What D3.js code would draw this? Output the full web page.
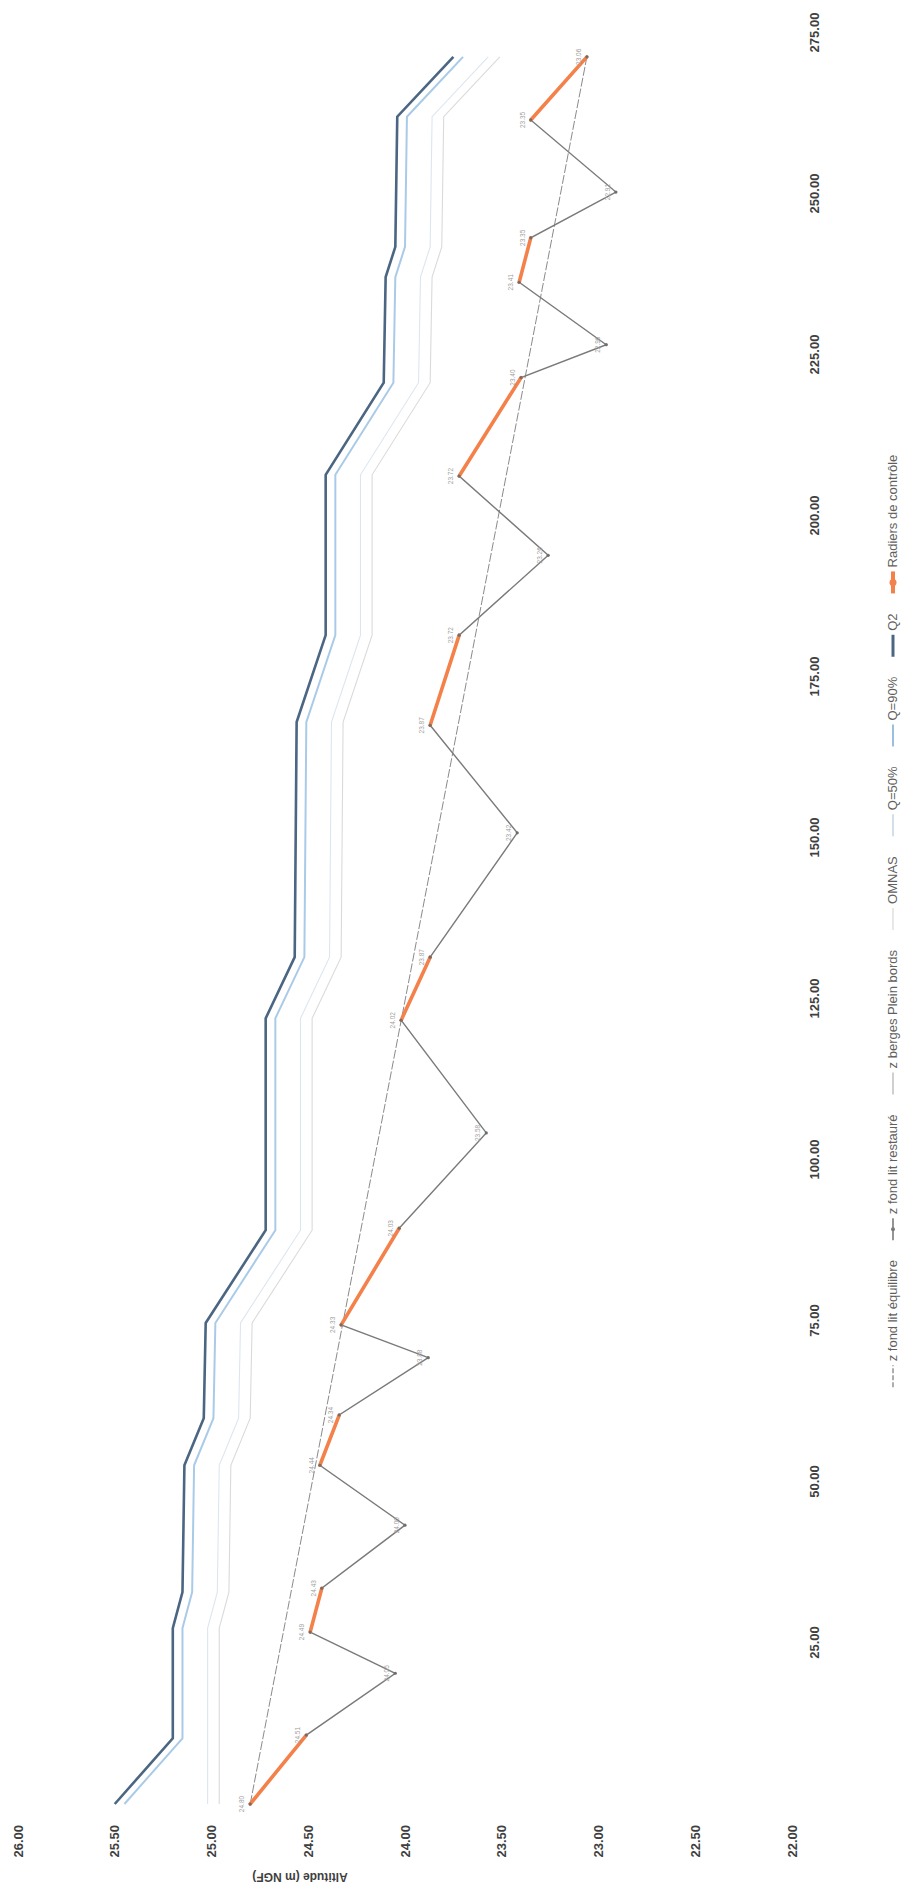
<!DOCTYPE html>
<html>
<head>
<meta charset="utf-8">
<script src="https://cdn.jsdelivr.net/npm/d3@7"></script>
<style>
  html, body { margin: 0; padding: 0; background: #ffffff; }
  svg { display: block; }
  text { font-family: "Liberation Sans", Arial, sans-serif; }
</style>
</head>
<body>
<div id="chart"></div>
<script>
// ---------------- DATA ----------------
const xTicks = [25, 50, 75, 100, 125, 150, 175, 200, 225, 250, 275];
const yTicks = [22.0, 22.5, 23.0, 23.5, 24.0, 24.5, 25.0, 25.5, 26.0];

// z fond lit restauré (profil en long, abscisse m / altitude m NGF)
const restX = [0, 10.7, 20.3, 26.7, 33.5, 43.3, 52.6, 60.4, 69.3, 74.4, 89.4, 104.2, 121.7, 131.5, 150.8, 167.5, 181.5, 193.9, 206.2, 221.5, 226.6, 236.3, 243.2, 250.3, 261.5, 271.3];
const restZ = [24.80, 24.51, 24.05, 24.49, 24.43, 24.00, 24.44, 24.34, 23.88, 24.33, 24.03, 23.58, 24.02, 23.87, 23.42, 23.87, 23.72, 23.26, 23.72, 23.40, 22.96, 23.41, 23.35, 22.91, 23.35, 23.06];

// Radiers de contrôle : segments [start, end] on the restored profile
const radierStartX = [0, 26.7, 52.6, 74.4, 121.7, 167.5, 206.2, 236.3, 261.5];
const radierStartZ = [24.80, 24.49, 24.44, 24.33, 24.02, 23.87, 23.72, 23.41, 23.35];
const radierEndX   = [10.7, 33.5, 60.4, 89.4, 131.5, 181.5, 221.5, 243.2, 271.3];
const radierEndZ   = [24.51, 24.43, 24.34, 24.03, 23.87, 23.72, 23.40, 23.35, 23.06];

// z fond lit équilibre
const equiX = [0, 271.3];
const equiZ = [24.80, 23.06];

// water lines
const qX   = [0, 10.2, 27.3, 32.9, 52.6, 59.9, 74.7, 89.1, 122.0, 131.5, 168.0, 181.5, 206.4, 220.7, 237.1, 241.8, 262.0, 271.3];
const q2Z  = [25.50, 25.20, 25.20, 25.15, 25.14, 25.04, 25.03, 24.72, 24.72, 24.57, 24.56, 24.41, 24.41, 24.11, 24.10, 24.05, 24.04, 23.75];
const q90Z = [25.45, 25.15, 25.15, 25.10, 25.09, 24.99, 24.98, 24.67, 24.67, 24.52, 24.51, 24.36, 24.36, 24.06, 24.05, 24.00, 23.99, 23.70];
const q50Z = [25.02, 25.02, 25.02, 24.97, 24.96, 24.86, 24.85, 24.54, 24.54, 24.39, 24.38, 24.23, 24.23, 23.93, 23.92, 23.87, 23.86, 23.57];
const bergesZ = [24.96, 24.96, 24.96, 24.91, 24.90, 24.80, 24.79, 24.48, 24.48, 24.33, 24.32, 24.17, 24.17, 23.87, 23.86, 23.81, 23.80, 23.51];

const legendLabels = ["z fond lit équilibre", "z fond lit restauré", "z berges Plein bords", "OMNAS", "Q=50%", "Q=90%", "Q2", "Radiers de contrôle"];
const legendColors = ["#8c8c8c", "#7a7a7a", "#c4c4c4", "#e2e2e2", "#c9d6e3", "#9dbfdf", "#4a6682", "#f4804a"];

// ---------------- LAYOUT ----------------
const PAGE_W = 908, PAGE_H = 1889;
// chart is drawn in landscape (PAGE_H wide, PAGE_W tall) then rotated -90deg
const svg = d3.select("#chart").append("svg")
  .attr("width", PAGE_W).attr("height", PAGE_H)
  .style("background", "#fff");

const g = svg.append("g").attr("transform", `translate(0,${PAGE_H}) rotate(-90)`);

const x = d3.scaleLinear().domain([0, 275]).range([85, 1856]);
const y = d3.scaleLinear().domain([22, 26]).range([792, 18]);

// ---------------- AXES ----------------
const yAxis = g.append("g").attr("transform", "translate(70,0)")
  .call(d3.axisLeft(y).tickValues(yTicks).tickFormat(d3.format(".2f")).tickSize(0).tickPadding(6));
const xAxis = g.append("g").attr("transform", "translate(0,810)")
  .call(d3.axisBottom(x).tickValues(xTicks).tickFormat(d3.format(".2f")).tickSize(0).tickPadding(0));
[yAxis, xAxis].forEach(a => {
  a.select(".domain").remove();
  a.selectAll("text")
    .attr("fill", "#3f3f3f")
    .style("font-size", "13px")
    .style("font-weight", "bold")
    .style("font-family", "'Liberation Sans', Arial, sans-serif");
});

g.append("text")
  .attr("transform", `translate(16,300) rotate(-90)`)
  .attr("text-anchor", "middle")
  .attr("fill", "#3f3f3f")
  .style("font-size", "12px")
  .style("font-weight", "bold")
  .text("Altitude (m NGF)");

// ---------------- LINES ----------------
const line = d3.line().x(d => x(d[0])).y(d => y(d[1]));
const zip = (xs, zs) => xs.map((v, i) => [v, zs[i]]);

g.append("path").datum(zip(qX, bergesZ)).attr("d", line)
  .attr("fill", "none").attr("stroke", "#dadada").attr("stroke-width", 1.1);
g.append("path").datum(zip(qX, q50Z)).attr("d", line)
  .attr("fill", "none").attr("stroke", "#dce6ef").attr("stroke-width", 1.1);
g.append("path").datum(zip(qX, q90Z)).attr("d", line)
  .attr("fill", "none").attr("stroke", "#a9cbe8").attr("stroke-width", 2);
g.append("path").datum(zip(qX, q2Z)).attr("d", line)
  .attr("fill", "none").attr("stroke", "#4a6682").attr("stroke-width", 2.6);

// equilibrium line
g.append("path").datum(zip(equiX, equiZ)).attr("d", line)
  .attr("fill", "none").attr("stroke", "#8a8a8a").attr("stroke-width", 1)
  .attr("stroke-dasharray", "9,2");

// restored bed
const rest = zip(restX, restZ);
g.append("path").datum(rest).attr("d", line)
  .attr("fill", "none").attr("stroke", "#7a7a7a").attr("stroke-width", 1.4);

// radiers
const radiers = radierStartX.map((v, i) => [[v, radierStartZ[i]], [radierEndX[i], radierEndZ[i]]]);
g.selectAll(".radier").data(radiers).join("path").attr("class", "radier")
  .attr("d", line).attr("fill", "none").attr("stroke", "#f4804a")
  .attr("stroke-width", 3.6).attr("stroke-linecap", "round");

// markers & value labels
g.selectAll(".pt").data(rest).join("circle").attr("class", "pt")
  .attr("cx", d => x(d[0])).attr("cy", d => y(d[1])).attr("r", 1.6)
  .attr("fill", "#6e6e6e");
g.selectAll(".lbl").data(rest).join("text").attr("class", "lbl")
  .attr("x", d => x(d[0])).attr("y", d => y(d[1]) - 6)
  .attr("text-anchor", "middle")
  .attr("fill", "#a0a0a0")
  .style("font-size", "6.5px")
  .text(d => d[1].toFixed(2));

// ---------------- LEGEND ----------------
const legendY = 897;
const fontSize = 13;
const sample = 22, gapTxt = 4, spacing = 20;
const measure = svg.append("text").style("font-size", fontSize + "px").attr("visibility", "hidden");
const widths = legendLabels.map(t => { measure.text(t); return measure.node().getComputedTextLength(); });
measure.remove();
const total = d3.sum(widths) + legendLabels.length * (sample + gapTxt) + (legendLabels.length - 1) * spacing;
let cx = 968 - total / 2;
const leg = g.append("g");
legendLabels.forEach((t, i) => {
  const it = leg.append("g").attr("transform", `translate(${cx},${legendY})`);
  const ln = it.append("line").attr("x1", 0).attr("x2", sample).attr("y1", -4).attr("y2", -4)
    .attr("stroke", legendColors[i]);
  if (i === 0) ln.attr("stroke-width", 1.4).attr("stroke-dasharray", "5,2");
  else if (i === 6) ln.attr("stroke-width", 3);
  else if (i === 7) ln.attr("stroke-width", 4);
  else if (i === 5) ln.attr("stroke-width", 2);
  else ln.attr("stroke-width", 1.6);
  if (i === 1 || i === 7) {
    it.append("circle").attr("cx", sample / 2).attr("cy", -4).attr("r", i === 7 ? 3.5 : 2)
      .attr("fill", legendColors[i]);
  }
  it.append("text").attr("x", sample + gapTxt).attr("y", 0)
    .attr("fill", "#5f5f5f").style("font-size", fontSize + "px").text(t);
  cx += sample + gapTxt + widths[i] + spacing;
});
</script>
</body>
</html>
